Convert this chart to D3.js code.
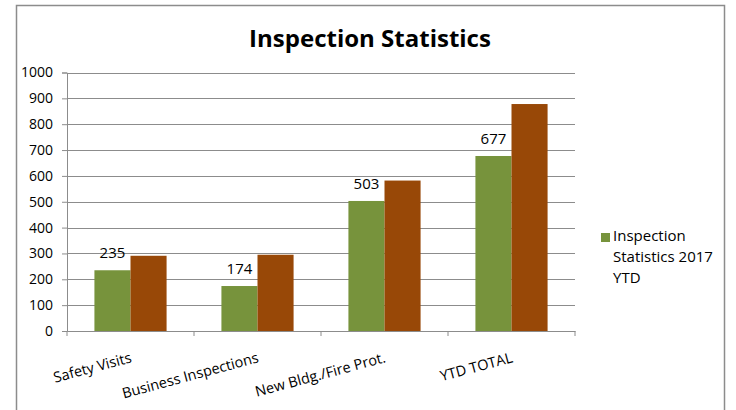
<!DOCTYPE html>
<html>
<head>
<meta charset="utf-8">
<script src="https://cdn.jsdelivr.net/npm/d3@7.9.0/dist/d3.min.js"></script>
<style>
  body { margin: 0; background: #fff; }
  svg { display: block; font-family: 'Open Sans', sans-serif; }
</style>
</head>
<body>
<svg width="736" height="410"></svg>
<script>
const categories = ['Safety Visits', 'Business Inspections', 'New Bldg./Fire Prot.', 'YTD TOTAL'];
const ytd2017 = [235, 174, 503, 677];
const secondSeries = [291, 295, 582, 878];
const yTicks = [0, 100, 200, 300, 400, 500, 600, 700, 800, 900, 1000];

const svg = d3.select('svg');
const plotLeft = 67, plotRight = 575, plotTop = 72.5, plotBottom = 331;

// outer chart frame
svg.append('rect')
  .attr('x', 16.5).attr('y', 5.5)
  .attr('width', 708).attr('height', 420)
  .attr('fill', 'none').attr('stroke', '#8c8c8c').attr('stroke-width', 1.5);

svg.append('text')
  .attr('x', 370).attr('y', 47)
  .attr('text-anchor', 'middle')
  .attr('font-size', 24).attr('font-weight', 'bold')
  .text('Inspection Statistics');

let x = d3.scaleBand().domain(categories).range([plotLeft, plotRight]).paddingInner(0).paddingOuter(0);
let y = d3.scaleLinear().domain([0, 1000]).range([plotBottom, plotTop]);
let inner = d3.scaleBand().domain([0, 1]).range([0, x.bandwidth()]).paddingOuter(0.76).paddingInner(0);

// gridlines
svg.append('g').selectAll('line').data(yTicks.slice(1)).join('line')
  .attr('x1', plotLeft).attr('x2', plotRight)
  .attr('y1', (d) => Math.round(y(d)) + 0.5).attr('y2', (d) => Math.round(y(d)) + 0.5)
  .attr('stroke', '#8c8c8c');

// y axis
let yAxis = svg.append('g').attr('transform', `translate(${plotLeft},0)`)
  .call(d3.axisLeft(y).tickValues(yTicks).tickFormat(d3.format('d')).tickSize(5).tickPadding(9));
yAxis.select('.domain').attr('stroke', '#8c8c8c');
yAxis.selectAll('.tick line').attr('stroke', '#8c8c8c');
yAxis.selectAll('text').attr('font-size', 14).attr('font-family', 'Open Sans').attr('fill', '#000');

// x axis
let xAxis = svg.append('g').attr('transform', `translate(0,${plotBottom})`)
  .call(d3.axisBottom(x).tickSize(0).tickFormat(''));
xAxis.select('.domain').attr('stroke', '#8c8c8c');
svg.append('g').selectAll('line').data(d3.range(categories.length + 1)).join('line')
  .attr('x1', (i) => plotLeft + i * x.bandwidth()).attr('x2', (i) => plotLeft + i * x.bandwidth())
  .attr('y1', plotBottom).attr('y2', plotBottom + 5)
  .attr('stroke', '#8c8c8c');

svg.append('g').selectAll('text').data(categories).join('text')
  .attr('text-anchor', 'end')
  .attr('font-size', 14.5)
  .attr('transform', (d) => `translate(${x(d) + x.bandwidth() / 2 + 2},${plotBottom + 31}) rotate(-15)`)
  .text((d) => d);

// bars
const series = [
  { values: ytd2017, color: '#77933c' },
  { values: secondSeries, color: '#984807' },
];
series.forEach((s, si) => {
  svg.append('g').selectAll('rect').data(categories).join('rect')
    .attr('x', (d) => x(d) + inner(si))
    .attr('y', (d, i) => y(s.values[i]))
    .attr('width', inner.bandwidth())
    .attr('height', (d, i) => plotBottom - y(s.values[i]))
    .attr('fill', s.color);
});

// data labels on first series
svg.append('g').selectAll('text').data(categories).join('text')
  .attr('x', (d) => x(d) + inner(0) + inner.bandwidth() / 2)
  .attr('y', (d, i) => y(ytd2017[i]) - 12)
  .attr('text-anchor', 'middle')
  .attr('font-size', 15)
  .text((d, i) => ytd2017[i]);

// legend
svg.append('rect').attr('x', 601).attr('y', 233).attr('width', 9).attr('height', 9).attr('fill', '#77933c');
let legendText = svg.append('text').attr('font-size', 15);
['Inspection', 'Statistics 2017', 'YTD'].forEach((line, i) => {
  legendText.append('tspan').attr('x', 613).attr('y', 241 + i * 21).text(line);
});
</script>
</body>
</html>
